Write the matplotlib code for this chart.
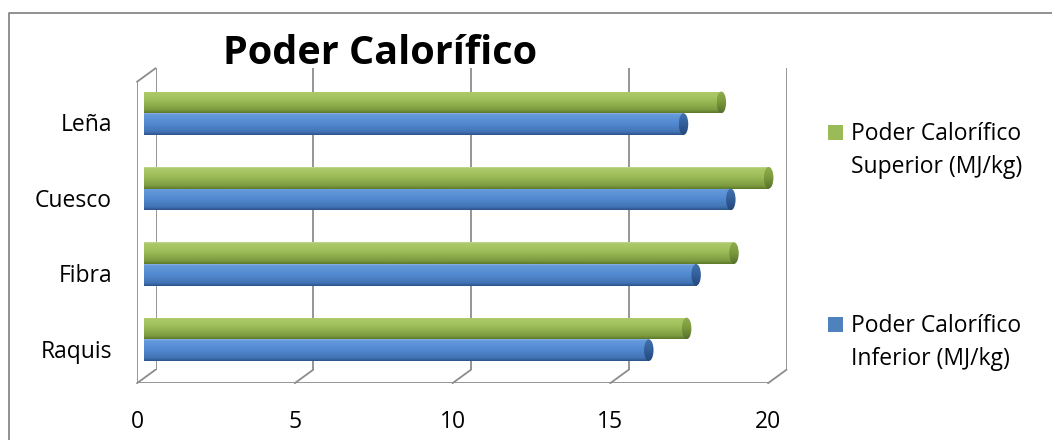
import numpy as np
import matplotlib
matplotlib.use("Agg")
import matplotlib.pyplot as plt
from matplotlib.patches import Rectangle, Ellipse, ConnectionPatch
from matplotlib.lines import Line2D
from matplotlib.colors import LinearSegmentedColormap
from matplotlib.transforms import ScaledTranslation

# ---- data ----
categories = ["Raquis", "Fibra", "Cuesco", "Leña"]
superior = [17.2, 18.7, 19.8, 18.3]   # Poder Calorífico Superior (MJ/kg)
inferior = [16.0, 17.5, 18.6, 17.1]   # Poder Calorífico Inferior (MJ/kg)
series_names = ["Poder Calorífico\nSuperior (MJ/kg)",
                "Poder Calorífico\nInferior (MJ/kg)"]
x_ticks = [0, 5, 10, 15, 20]
title = "Poder Calorífico"

# ---- styling ----
W, H, DPI = 1052, 440, 100
plt.rcParams['font.family'] = ['Open Sans', 'DejaVu Sans']
LINE = '#8c8c8c'
FS = 16.5

green_body = LinearSegmentedColormap.from_list('gb', [
    (0.00, '#5b772a'), (0.15, '#7d9b3f'), (0.50, '#97b755'),
    (0.75, '#a6c562'), (0.93, '#abc967'), (1.00, '#c4d89c')])
blue_body = LinearSegmentedColormap.from_list('bb', [
    (0.00, '#2a5288'), (0.15, '#4274b5'), (0.50, '#5188cf'),
    (0.75, '#5c92d7'), (0.93, '#649ada'), (1.00, '#8fb4e3')])
green_cap = LinearSegmentedColormap.from_list('gc', [
    (0.0, '#55702a'), (0.5, '#7a983c'), (1.0, '#8fae4c')])
blue_cap = LinearSegmentedColormap.from_list('bc', [
    (0.0, '#24497c'), (0.5, '#335f99'), (1.0, '#4272b0')])

fig = plt.figure(figsize=(W / DPI, H / DPI), dpi=DPI)
fig.patch.set_facecolor('white')


def px_box(left, top, right, bottom):
    return [left / W, 1 - bottom / H, (right - left) / W, (bottom - top) / H]


# bar plane, back wall plane and front plane of the 3-D box
L, T, R, B = 144, 75.6, 775, 377
BACK = (11.5, -7.3)
FRONT = (-7.0, 6.2)

ax_back = fig.add_axes(px_box(L + BACK[0], T + BACK[1], R + BACK[0], B + BACK[1]), zorder=0)
ax = fig.add_axes(px_box(L, T, R, B), zorder=2)
ax_front = fig.add_axes(px_box(L + FRONT[0], T + FRONT[1], R + FRONT[0], B + FRONT[1]), zorder=1)

ylim = (-0.5, len(categories) - 0.5)
for a in (ax_back, ax, ax_front):
    a.set_xlim(x_ticks[0], x_ticks[-1])
    a.set_ylim(*ylim)
    a.patch.set_alpha(0)
    for s in a.spines.values():
        s.set_visible(False)
    a.set_xticks([])
    a.set_yticks([])

# back wall gridlines
for xv in x_ticks:
    ax_back.plot([xv, xv], ylim, color=LINE, lw=1.3, solid_capstyle='butt')

# front edges: floor line and left wall edge
ax_front.plot([x_ticks[0], x_ticks[-1]], [ylim[0], ylim[0]], color=LINE, lw=1.3)
ax_front.plot([x_ticks[0], x_ticks[0]], ylim, color=LINE, lw=1.3)

# depth edges joining back and front
for xv in x_ticks:
    fig.add_artist(ConnectionPatch((xv, ylim[0]), (xv, ylim[0]),
                                   coordsA=ax_back.transData, coordsB=ax_front.transData,
                                   color=LINE, lw=1.3))
fig.add_artist(ConnectionPatch((x_ticks[0], ylim[1]), (x_ticks[0], ylim[1]),
                               coordsA=ax_back.transData, coordsB=ax_front.transData,
                               color=LINE, lw=1.3))

# cylinders
bar_h = 0.288
cap_w = 0.30
grad = np.linspace(0, 1, 256).reshape(-1, 1)


def cylinder(axis, y0, value, body_cmap, cap_cmap):
    rect = Rectangle((0, y0), value, bar_h, transform=axis.transData)
    im = axis.imshow(grad, extent=[0, value, y0, y0 + bar_h], origin='lower',
                     aspect='auto', cmap=body_cmap, interpolation='bilinear', zorder=3)
    im.set_clip_path(rect)
    ell = Ellipse((value, y0 + bar_h / 2), cap_w, bar_h, transform=axis.transData)
    im2 = axis.imshow(grad, extent=[value - cap_w / 2, value + cap_w / 2, y0, y0 + bar_h],
                      origin='lower', aspect='auto', cmap=cap_cmap,
                      interpolation='bilinear', zorder=4)
    im2.set_clip_path(ell)


for i in range(len(categories)):
    cylinder(ax, i, superior[i], green_body, green_cap)
    cylinder(ax, i - bar_h, inferior[i], blue_body, blue_cap)

ax.set_xlim(x_ticks[0], x_ticks[-1])
ax.set_ylim(*ylim)

# axis labels on the front plane
ax_front.set_yticks(range(len(categories)))
ax_front.set_yticklabels(categories, fontsize=FS)
ax_front.set_xticks(x_ticks)
ax_front.set_xticklabels([str(v) for v in x_ticks], fontsize=FS)
ax_front.tick_params(axis='y', length=0, pad=18)
ax_front.tick_params(axis='x', length=0, pad=19)
for tk in ax_front.yaxis.get_major_ticks():
    tk.label1.set_transform(tk.label1.get_transform() +
                            ScaledTranslation(0, -3 / DPI, fig.dpi_scale_trans))

# title
fig.text(380.5 / W, 1 - 63.5 / H, title, ha='center', va='baseline',
         fontsize=28.5, fontweight='bold')

# legend
legend_rows = [(series_names[0], '#9bbb59', 125), (series_names[1], '#4f81bd', 316.5)]
for text, color, top in legend_rows:
    fig.add_artist(Rectangle((828 / W, 1 - (top + 15) / H), 15 / W, 15 / H,
                             transform=fig.transFigure, facecolor=color, edgecolor='none'))
    fig.text(851 / W, 1 - (top - 3) / H, text, ha='left', va='top',
             fontsize=FS, linespacing=1.5)

# chart area border
fig.add_artist(Line2D([8.5 / W, 8.5 / W, 1.0], [0.0, 1 - 13.5 / H, 1 - 13.5 / H],
                      transform=fig.transFigure, color='#888888', lw=1.3))

fig.savefig('out.png', dpi=DPI, facecolor='white')
